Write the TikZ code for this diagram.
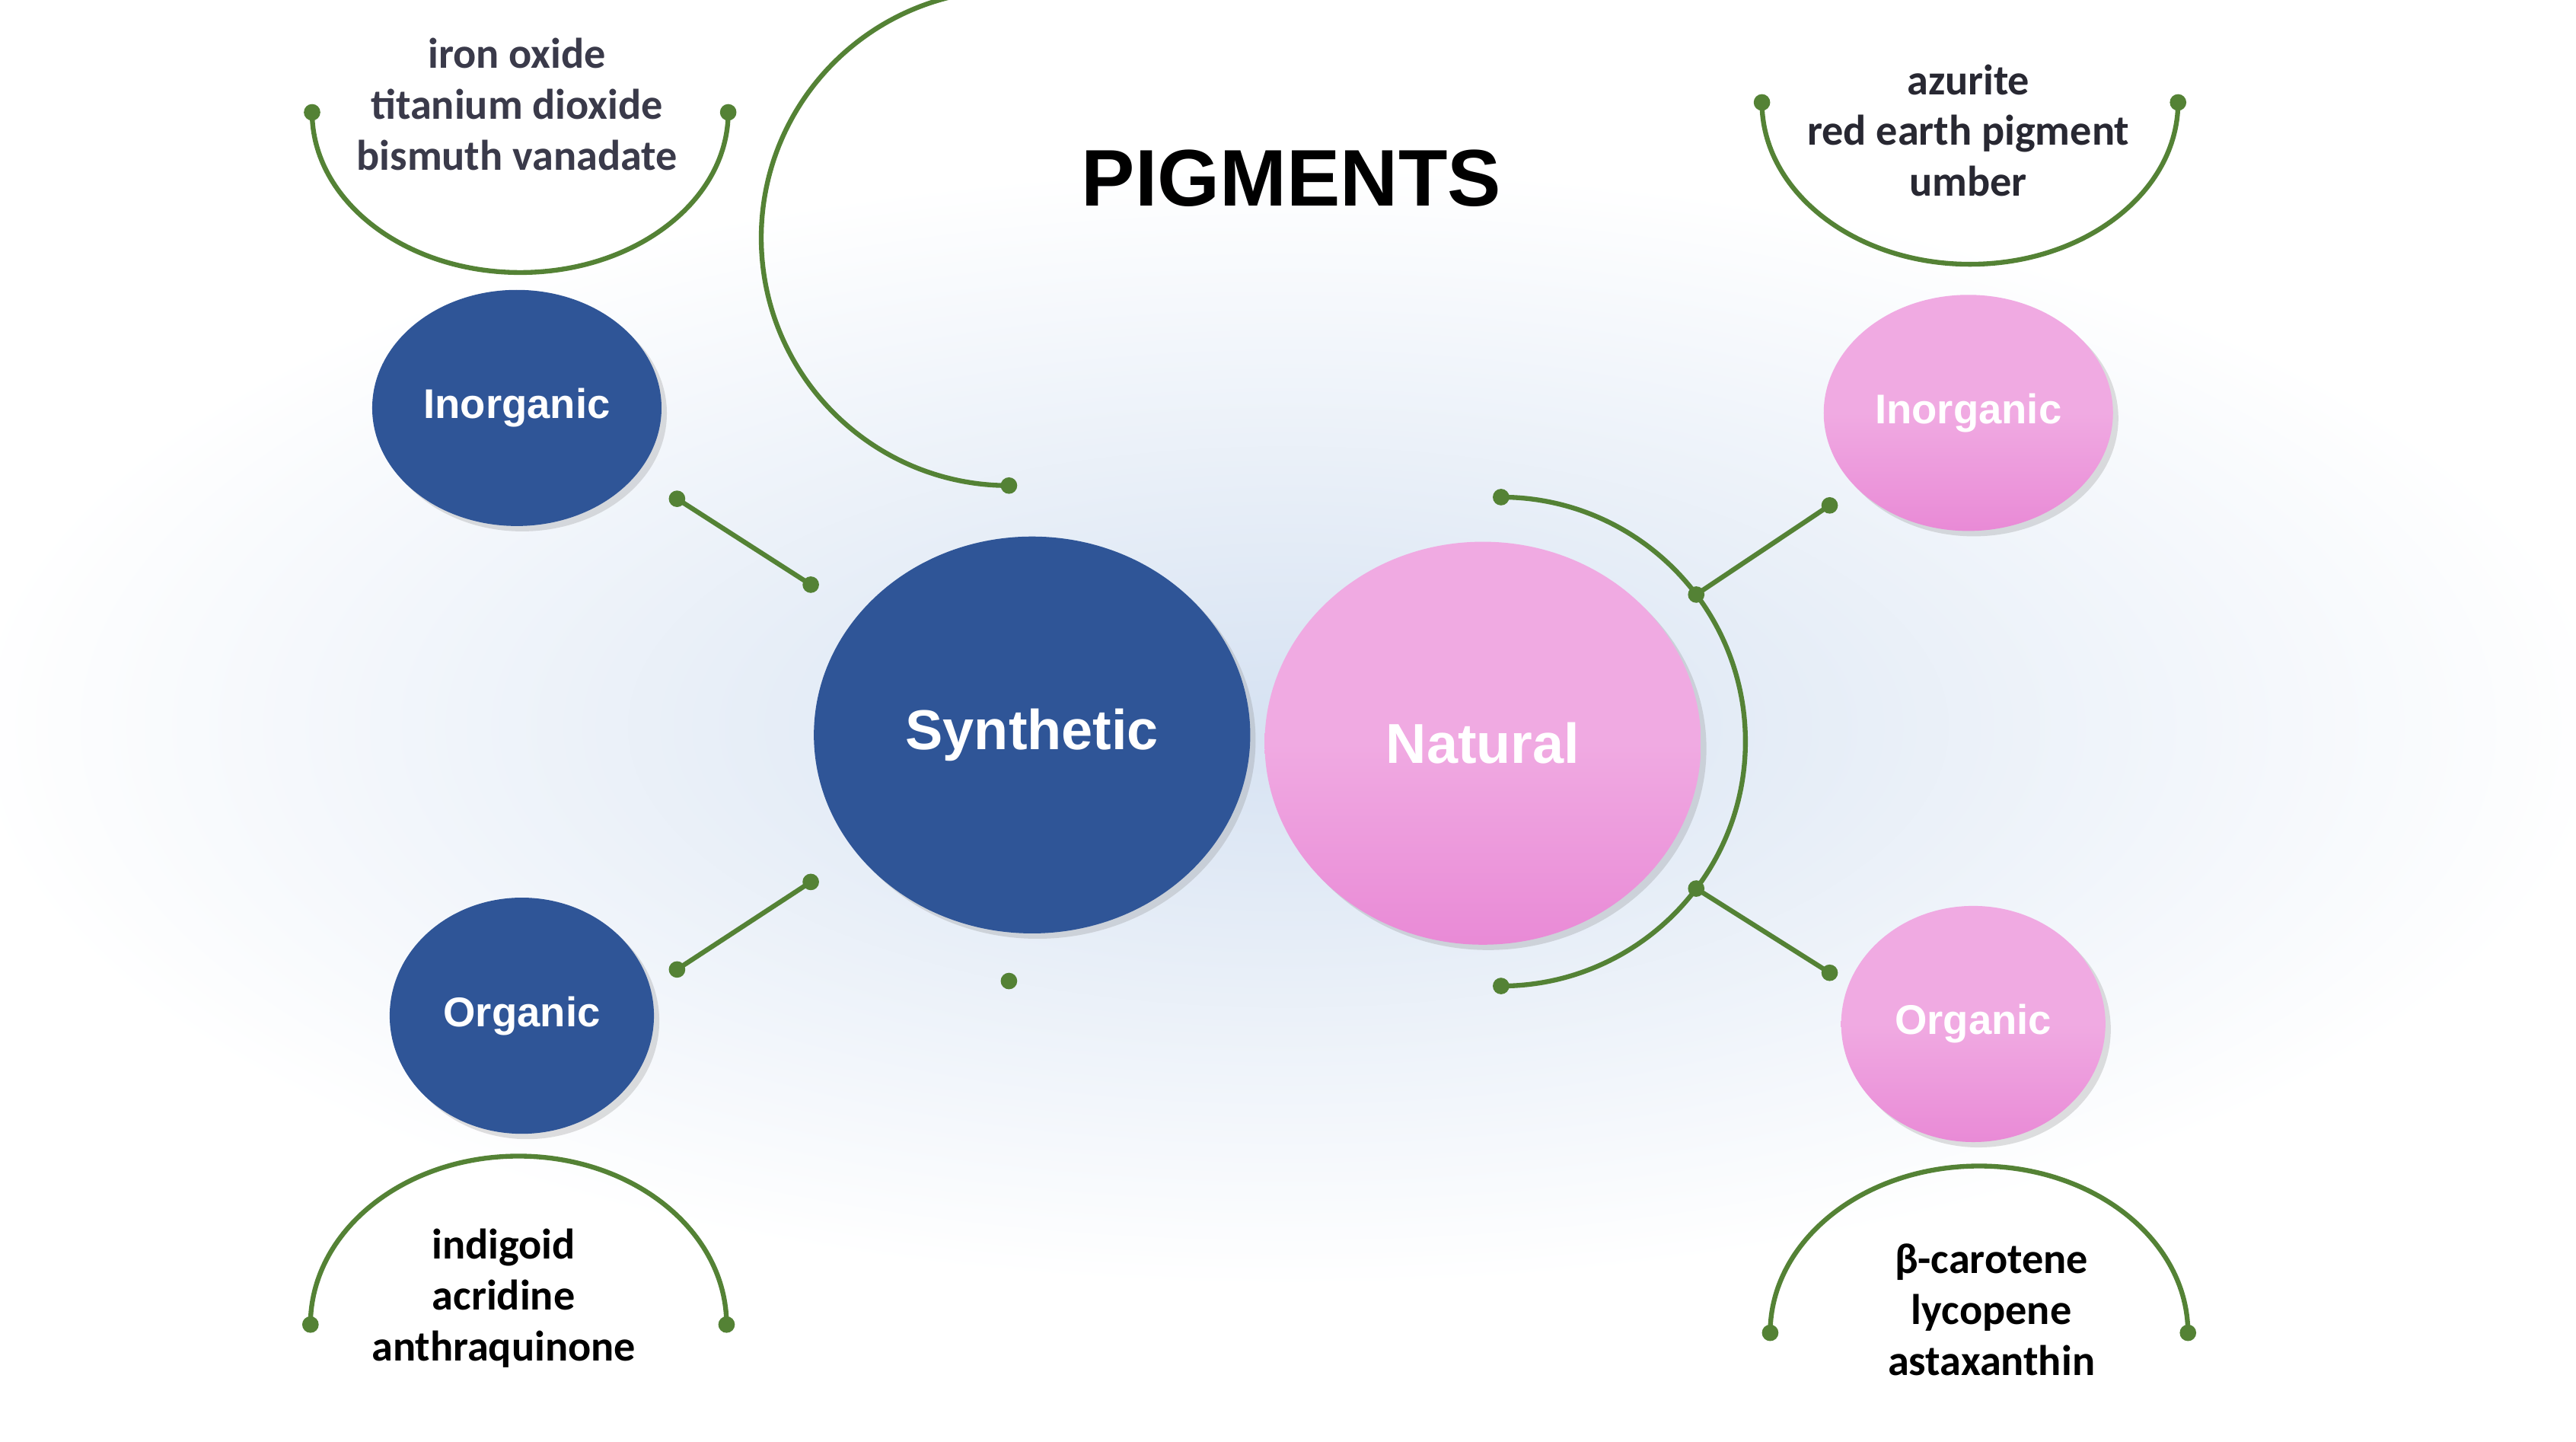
\documentclass[tikz,border=0pt]{standalone}
\usepackage{fontspec}
\setmainfont{Liberation Sans}
\newfontfamily\listfont{Carlito}
\usetikzlibrary{shapes.geometric,shadows,calc}
\definecolor{navy}{HTML}{2F5597}
\definecolor{pinkA}{HTML}{F0AAE2}
\definecolor{pinkB}{HTML}{E98AD6}
\definecolor{grn}{HTML}{548235}
\definecolor{glow}{RGB}{214,226,242}
\definecolor{txtA}{RGB}{58,58,74}
\definecolor{txtB}{RGB}{40,40,50}
\begin{document}
\begin{tikzpicture}[x=0.02169cm,y=-0.02169cm,
  big/.style={ellipse,draw=none,text=white,font=\bfseries\fontsize{21}{24}\selectfont,drop shadow={opacity=0.25,shadow xshift=2pt,shadow yshift=-2pt}},
  small/.style={ellipse,draw=none,text=white,font=\bfseries\fontsize{15.5}{18}\selectfont,minimum width=3.47cm,minimum height=3.1cm,drop shadow={opacity=0.25,shadow xshift=2pt,shadow yshift=-2pt}},
  blue/.style={fill=navy},
  pink/.style={top color=pinkA,bottom color=pinkB,middle color=pinkA},
  arcl/.style={draw=grn,line width=1.8pt},
  dot/.style={fill=grn},
  lst/.style={font=\listfont\bfseries\fontsize{16}{19}\selectfont,align=center}]
\useasboundingbox (0,0) rectangle (1560,873);
\fill[white] (0,0) rectangle (1560,873);
\shade[inner color=glow,outer color=white] (780,440) ellipse [x radius=800,y radius=340];
\node[font=\bfseries\fontsize{30}{34}\selectfont] (title) at (782,108) {PIGMENTS};

\node[big,blue,minimum width=5.73cm,minimum height=5.21cm] (syn) at (625,445) {Synthetic};
\node[big,pink,minimum width=5.73cm,minimum height=5.29cm] (nat) at (898,450) {Natural};
\node[small,blue] (sinorg) at (313,247) {Inorganic};
\node[small,blue] (sorg) at (316,615) {Organic};
\node[small,pink] (ninorg) at (1192,250) {Inorganic};
\node[small,pink] (norg) at (1195,620) {Organic};

\coordinate (cs) at (611,444);
\draw[arcl] (611,294) arc[start angle=90,end angle=270,radius=150];
\coordinate (s1) at ($(cs)+(-120,-90)$);
\coordinate (s2) at ($(cs)+(-120,90)$);
\coordinate (cn) at (909,449);
\draw[arcl] (909,301) arc[start angle=-90,end angle=90,radius=148];
\coordinate (n1) at ($(cn)+(118.2,-89)$);
\coordinate (n2) at ($(cn)+(118.2,89)$);
\coordinate (s1e) at (410,302);
\coordinate (s2e) at (410,587);
\coordinate (n1e) at (1108,306);
\coordinate (n2e) at (1108,589);
\draw[arcl] (s1) -- (s1e);
\draw[arcl] (s2) -- (s2e);
\draw[arcl] (n1) -- (n1e);
\draw[arcl] (n2) -- (n2e);
\foreach \p in {s1,s2,n1,n2,s1e,s2e,n1e,n2e} \fill[dot] (\p) circle (5);
\fill[dot] (611,294) circle (5); \fill[dot] (611,594) circle (5);
\fill[dot] (909,301) circle (5); \fill[dot] (909,597) circle (5);

\draw[arcl] (189,68) arc[start angle=180,end angle=0,x radius=126,y radius=97];
\fill[dot] (189,68) circle (5); \fill[dot] (441,68) circle (5);
\draw[arcl] (1067,62) arc[start angle=180,end angle=0,x radius=126,y radius=98];
\fill[dot] (1067,62) circle (5); \fill[dot] (1319,62) circle (5);
\draw[arcl] (188,802) arc[start angle=180,end angle=360,x radius=126,y radius=102];
\fill[dot] (188,802) circle (5); \fill[dot] (440,802) circle (5);
\draw[arcl] (1072,807) arc[start angle=180,end angle=360,x radius=126.5,y radius=101];
\fill[dot] (1072,807) circle (5); \fill[dot] (1325,807) circle (5);

\node[lst,text=txtA] (l1) at (313,63) {iron oxide\\titanium dioxide\\bismuth vanadate};
\node[lst,text=txtB] (l2) at (1192,79) {azurite\\red earth pigment\\umber};
\node[lst] (l3) at (305,786) {indigoid\\acridine\\anthraquinone};
\node[lst] (l4) at (1206,793) {β-carotene\\lycopene\\astaxanthin};
\end{tikzpicture}
\end{document}
